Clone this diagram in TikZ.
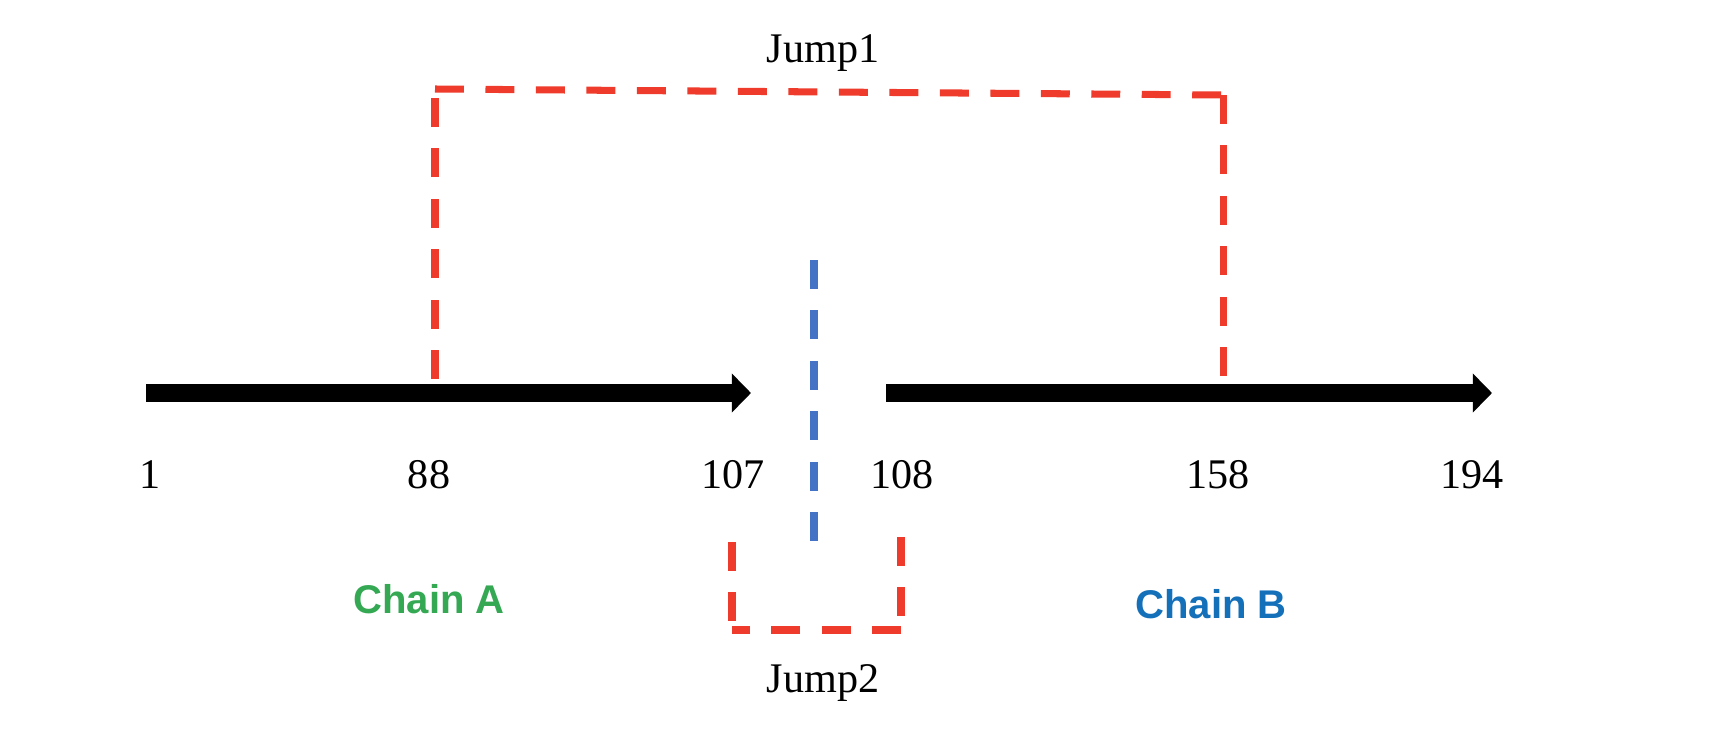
\documentclass[tikz,border=0pt]{standalone}
\usepackage{fontspec}
\setmainfont{Liberation Serif}
\newfontfamily\chainfont{Liberation Sans}
\usepackage{tikz}
\usetikzlibrary{arrows.meta,positioning}
\definecolor{jumpred}{RGB}{238,59,43}
\definecolor{cutblue}{RGB}{68,114,196}
\definecolor{chaingreen}{RGB}{52,168,83}
\definecolor{chainblue}{RGB}{21,112,186}

\begin{document}
\begin{tikzpicture}[x=0.025cm,y=-0.025cm,
    chainarrow/.style={line width=13.5pt,-{Triangle[length=0.48cm,width=0.95cm]}},
    jumpline/.style={draw=jumpred,line width=5pt,dash pattern=on 20.6pt off 15.3pt},
    cutline/.style={draw=cutblue,line width=5pt,dash pattern=on 20.6pt off 15.3pt},
    resnum/.style={font=\fontsize{30}{36}\selectfont,inner sep=0pt,anchor=base},
    chainlbl/.style={font=\chainfont\bfseries\fontsize{28.5}{34}\selectfont,inner sep=0pt,anchor=base}]
  \useasboundingbox (0,0) rectangle (1720,730);

  % the two chains
  \coordinate (a0) at (146,393);
  \coordinate (a1) at (751,393);
  \coordinate (b0) at (886,393);
  \coordinate (b1) at (1492,393);
  \draw[chainarrow] (a0) -- (a1);
  \draw[chainarrow] (b0) -- (b1);

  % residue numbers
  \node[resnum] (n1) at (150,488) {1};
  \node[resnum] (n88) at (429,488) {88};
  \node[resnum] (n107) at (733,488) {107};
  \node[resnum] (n108) at (902,488) {108};
  \node[resnum] (n158) at (1218,488) {158};
  \node[resnum] (n194) at (1472,488) {194};

  % jump 1
  \coordinate (j1a) at (435,379);
  \coordinate (j1b) at (435,89);
  \coordinate (j1c) at (1223,95);
  \coordinate (j1d) at (1223,378);
  \draw[jumpline] (j1a) -- (j1b);
  \draw[jumpline] (j1b) -- (j1c);
  \draw[jumpline] (j1c) -- (j1d);
  \node[resnum] (jump1) at (823,62) {Jump1};

  % cut between the chains
  \coordinate (cuttop) at (814,260);
  \coordinate (cutbot) at (814,541);
  \draw[cutline] (cuttop) -- (cutbot);

  % jump 2
  \coordinate (j2a) at (732,542);
  \coordinate (j2b) at (732,630);
  \coordinate (j2c) at (901,630);
  \coordinate (j2d) at (901,537);
  \draw[jumpline] (j2a) -- (j2b);
  \draw[jumpline] (j2c) -- (j2b);
  \draw[jumpline] (j2d) -- (j2c);
  \node[resnum] (jump2) at (823,692) {Jump2};

  % chain names
  \node[chainlbl,text=chaingreen] (chainA) at (429,613) {Chain A};
  \node[chainlbl,text=chainblue] (chainB) at (1211,618) {Chain B};
\end{tikzpicture}
\end{document}
